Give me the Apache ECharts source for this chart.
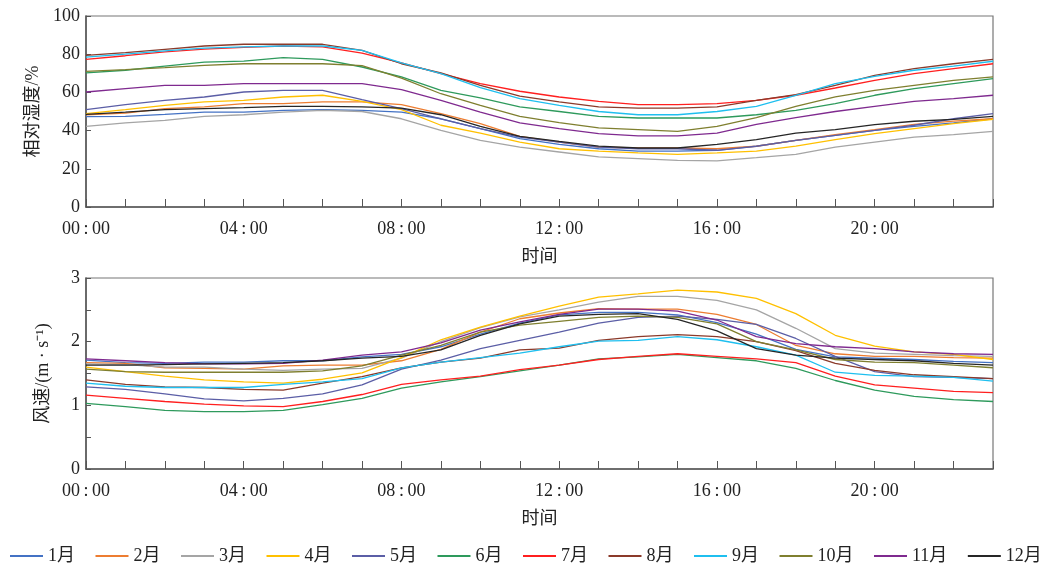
<!DOCTYPE html>
<html>
<head>
<meta charset="utf-8">
<script src="https://cdn.jsdelivr.net/npm/echarts@6/dist/echarts.min.js"></script>
<style>html,body{margin:0;padding:0;background:#fff}#c{width:1043px;height:564px}</style>
</head>
<body>
<div id="c"></div>
<script>
const hours = [0,1,2,3,4,5,6,7,8,9,10,11,12,13,14,15,16,17,18,19,20,21,22,23];
const months = ['1月','2月','3月','4月','5月','6月','7月','8月','9月','10月','11月','12月'];
const colors = ['#4472C4','#ED7D31','#A5A5A5','#FFC000','#5B5EA6','#2E9A5C','#FF1F1F','#8B3A2A','#1FBFEF','#7F7F2F','#7F2A8F','#262626'];

// Relative humidity (%)
const rh1  = [47.3,47.5,48.5,49.7,49.7,50.6,51.0,50.6,49.7,46.2,41.0,35.8,32.8,30.5,29.3,29.3,29.7,31.9,34.9,37.5,40.1,42.2,44.0,46.2];
const rh2  = [48.3,49.2,51.5,52.4,54.1,54.1,55.0,55.0,53.6,48.9,43.6,37.0,34.0,31.4,30.9,30.9,30.5,31.8,34.9,37.9,40.5,43.3,45.0,46.2];
const rh3  = [42.2,44.0,45.4,47.5,48.3,49.7,50.6,50.0,46.2,40.1,34.9,31.4,28.8,26.2,25.3,24.4,24.1,25.8,27.6,31.4,34.0,36.6,37.9,39.6];
const rh4  = [48.9,51.0,53.2,55.0,55.8,57.6,58.5,55.3,51.0,42.8,38.7,34.0,30.5,29.3,28.3,27.6,28.3,29.3,31.9,35.3,38.4,41.0,43.6,45.9];
const rh5  = [51.0,53.6,55.8,57.6,60.2,61.1,61.1,56.2,51.5,46.2,41.0,36.6,34.0,31.4,30.5,30.5,29.7,31.8,34.9,37.5,40.1,42.8,46.2,48.9];
const rh6  = [70.2,71.6,73.8,75.9,76.4,78.2,77.3,73.3,68.1,61.1,57.1,52.4,50.0,47.5,46.6,46.6,46.6,48.3,50.6,54.1,58.5,62.0,64.6,67.2];
const rh7  = [77.3,79.2,81.2,82.7,83.6,84.3,83.8,80.6,75.4,69.8,64.6,60.6,57.6,55.3,53.6,53.6,54.1,55.8,58.5,62.3,66.3,69.8,72.4,75.0];
const rh8  = [79.4,80.8,82.5,84.3,85.2,85.2,85.2,82.0,75.0,70.2,63.7,58.1,55.0,52.4,51.8,51.8,52.4,55.8,58.8,63.7,68.9,72.4,75.0,77.3];
const rh9  = [78.5,80.0,81.7,83.2,83.8,84.3,84.3,82.0,75.4,69.8,62.5,56.7,53.2,50.0,48.3,48.3,50.0,52.7,58.5,64.6,68.4,71.6,73.8,76.3];
const rh10 = [71.0,71.9,73.0,74.2,75.0,75.0,75.0,74.0,67.5,59.3,53.2,47.5,44.2,41.4,40.5,39.6,42.2,46.8,52.7,57.6,61.1,63.7,66.3,68.1];
const rh11 = [60.2,62.0,63.7,63.7,64.6,64.6,64.6,64.6,61.4,55.8,49.7,44.0,41.0,38.4,37.2,37.2,38.7,43.3,46.8,50.0,52.7,55.3,56.7,58.5];
const rh12 = [48.5,49.7,51.0,51.5,52.0,52.7,52.7,52.4,51.8,48.3,42.2,37.0,34.4,31.9,30.9,30.9,32.8,35.3,38.7,40.5,43.1,44.9,45.9,47.5];

// Wind speed (m/s)
const ws1  = [1.71,1.67,1.66,1.68,1.68,1.70,1.70,1.76,1.80,1.92,2.12,2.29,2.42,2.46,2.46,2.42,2.30,2.12,1.88,1.76,1.74,1.72,1.69,1.67];
const ws2  = [1.67,1.66,1.59,1.58,1.57,1.62,1.63,1.63,1.70,1.88,2.15,2.36,2.45,2.52,2.51,2.51,2.43,2.27,1.94,1.81,1.77,1.77,1.75,1.74];
const ws3  = [1.65,1.64,1.60,1.60,1.57,1.55,1.57,1.58,1.74,2.00,2.22,2.39,2.50,2.62,2.71,2.71,2.65,2.50,2.21,1.89,1.82,1.80,1.78,1.77];
const ws4  = [1.60,1.53,1.46,1.40,1.37,1.35,1.41,1.51,1.75,2.03,2.23,2.40,2.56,2.70,2.75,2.81,2.78,2.68,2.44,2.10,1.93,1.84,1.80,1.72];
const ws5  = [1.29,1.25,1.18,1.10,1.07,1.11,1.18,1.32,1.57,1.71,1.89,2.02,2.15,2.29,2.38,2.40,2.35,2.27,2.05,1.77,1.53,1.45,1.44,1.42];
const ws6  = [1.03,0.98,0.92,0.90,0.90,0.92,1.01,1.11,1.27,1.37,1.45,1.54,1.63,1.73,1.76,1.80,1.75,1.70,1.58,1.39,1.24,1.14,1.09,1.06];
const ws7  = [1.16,1.11,1.06,1.02,0.99,0.98,1.06,1.17,1.33,1.40,1.46,1.56,1.63,1.72,1.77,1.81,1.77,1.73,1.67,1.46,1.32,1.27,1.22,1.20];
const ws8  = [1.40,1.33,1.29,1.28,1.25,1.24,1.35,1.45,1.59,1.68,1.74,1.87,1.90,2.02,2.08,2.11,2.08,2.00,1.86,1.66,1.55,1.48,1.45,1.42];
const ws9  = [1.35,1.30,1.28,1.28,1.28,1.33,1.37,1.42,1.59,1.68,1.75,1.82,1.92,2.01,2.02,2.08,2.03,1.92,1.79,1.52,1.47,1.46,1.44,1.38];
const ws10 = [1.57,1.53,1.52,1.52,1.52,1.52,1.54,1.62,1.79,1.94,2.15,2.26,2.32,2.38,2.40,2.38,2.28,2.00,1.87,1.72,1.68,1.67,1.63,1.59];
const ws11 = [1.73,1.70,1.67,1.65,1.65,1.66,1.71,1.79,1.84,1.98,2.18,2.31,2.43,2.51,2.51,2.48,2.34,2.08,1.97,1.92,1.89,1.84,1.81,1.80];
const ws12 = [1.63,1.63,1.64,1.65,1.66,1.67,1.70,1.74,1.77,1.87,2.10,2.28,2.40,2.43,2.44,2.35,2.17,1.89,1.79,1.74,1.72,1.70,1.66,1.63];

const rhAll = [rh1,rh2,rh3,rh4,rh5,rh6,rh7,rh8,rh9,rh10,rh11,rh12];
const wsAll = [ws1,ws2,ws3,ws4,ws5,ws6,ws7,ws8,ws9,ws10,ws11,ws12];

const serif = '"Liberation Serif","Noto Sans CJK SC",serif';
const txt = '#222';
const axisCol = '#555';
const FS = 18;

function xLabel(v){
  if (v % 4 !== 0) return '';
  return (v < 10 ? '0' + v : '' + v) + '\u2009:\u200900';
}

function makeX(gi){
  return {
    type:'value', gridIndex:gi, min:0, max:23, interval:1,
    name:'时间', nameLocation:'middle', nameGap:41,
    nameTextStyle:{fontFamily:serif, fontSize:FS, color:txt},
    axisLine:{show:true, onZero:false, lineStyle:{color:axisCol, width:1.5}},
    axisTick:{show:true, inside:true, length:8, lineStyle:{color:axisCol}},
    axisLabel:{formatter:xLabel, fontFamily:serif, fontSize:FS, color:txt, margin:13, showMaxLabel:true},
    splitLine:{show:false}
  };
}

const series = [];
months.forEach((m,i)=>{
  series.push({name:m, type:'line', xAxisIndex:0, yAxisIndex:0, showSymbol:false, symbol:'none',
    lineStyle:{width:1.3, color:colors[i]}, itemStyle:{color:colors[i]},
    data: hours.map((h,k)=>[h, rhAll[i][k]])});
});
months.forEach((m,i)=>{
  series.push({name:m, type:'line', xAxisIndex:1, yAxisIndex:1, showSymbol:false, symbol:'none',
    lineStyle:{width:1.3, color:colors[i]}, itemStyle:{color:colors[i]},
    data: hours.map((h,k)=>[h, wsAll[i][k]])});
});

const chart = echarts.init(document.getElementById('c'), null, {renderer:'canvas'});
chart.setOption({
  backgroundColor:'#fff',
  animation:false,
  color:colors,
  grid:[
    {left:86, top:16, width:907, height:191, show:true, borderColor:'#777', borderWidth:1.2, backgroundColor:'transparent'},
    {left:86, top:278, width:907, height:191, show:true, borderColor:'#777', borderWidth:1.2, backgroundColor:'transparent'}
  ],
  xAxis:[makeX(0), makeX(1)],
  yAxis:[
    {type:'value', gridIndex:0, min:0, max:100, interval:20,
     name:'相对湿度/%', nameLocation:'middle', nameGap:34, nameRotate:90,
     nameTextStyle:{fontFamily:serif, fontSize:FS, color:txt},
     axisLine:{show:true, lineStyle:{color:axisCol, width:1.5}},
     axisTick:{show:true, inside:true, length:5, lineStyle:{color:axisCol}},
     axisLabel:{fontFamily:serif, fontSize:FS, color:txt, margin:6},
     splitLine:{show:false}},
    {type:'value', gridIndex:1, min:0, max:3, interval:0.5,
     name:'风速/(m · s⁻¹)', nameLocation:'middle', nameGap:34, nameRotate:90,
     nameTextStyle:{fontFamily:serif, fontSize:FS, color:txt},
     axisLine:{show:true, lineStyle:{color:axisCol, width:1.5}},
     axisTick:{show:true, inside:true, length:5, lineStyle:{color:axisCol}},
     axisLabel:{fontFamily:serif, fontSize:FS, color:txt, margin:6,
       formatter:v=> Number.isInteger(v) ? String(v) : ''},
     splitLine:{show:false}}
  ],
  legend:{
    data:months, left:10, top:547, width:1040, padding:0, itemWidth:33, itemHeight:2, itemGap:20.5,
    icon:'rect', textStyle:{fontFamily:serif, fontSize:FS, color:txt}
  },
  series:series
});
</script>
</body>
</html>
